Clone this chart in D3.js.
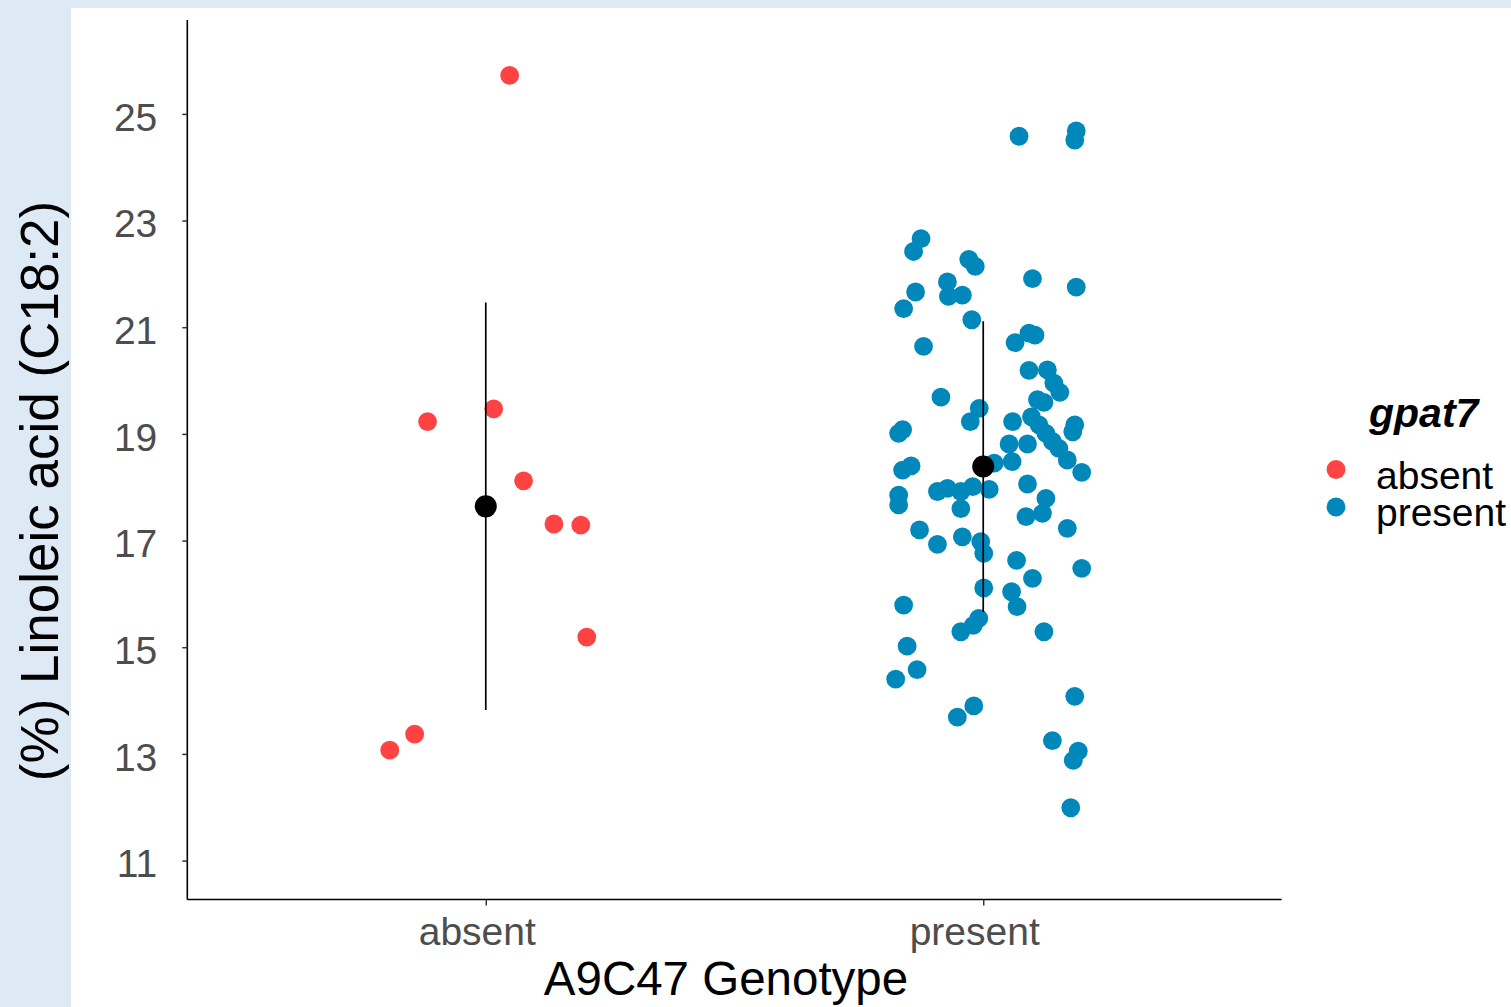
<!DOCTYPE html>
<html>
<head>
<meta charset="utf-8">
<script src="https://cdn.jsdelivr.net/npm/d3@7"></script>
<style>
  body { margin: 0; background: #dde9f5; }
  svg { display: block; font-family: "Liberation Sans", Arial, sans-serif; }
</style>
</head>
<body>
<svg id="chart" width="1511" height="1007"></svg>
<script>
// genotype groups
const groups = ["absent", "present"];

// linoleic acid (%) per line, plus horizontal jitter (in category units)
const absentValues = [25.72, 19.23, 19.47, 18.12, 17.31, 17.29, 15.19, 13.37, 13.07];
const absentJitter = [0.048, -0.117, 0.016, 0.076, 0.137, 0.191, 0.203, -0.143, -0.193];

const presentValues = [
  24.58, 24.68, 24.51, 22.66, 22.42, 22.27, 22.14, 21.91, 21.75, 21.85,
  21.66, 21.58, 21.60, 21.35, 21.14, 20.64, 20.71, 20.89, 20.85, 20.19,
  20.20, 19.95, 19.78, 19.69, 19.64, 19.59, 19.48, 19.23, 19.23, 19.32,
  19.17, 19.01, 19.17, 19.04, 19.08, 19.01, 18.81, 18.81, 18.86, 18.73,
  18.51, 18.28, 18.48, 18.45, 18.40, 18.32, 18.06, 17.79, 17.51, 17.45,
  17.85, 17.67, 17.92, 17.98, 17.92, 18.01, 17.96, 17.60, 17.20, 16.93,
  17.07, 16.98, 16.76, 17.23, 16.63, 16.29, 16.48, 16.11, 16.04, 15.76,
  15.79, 15.54, 15.41, 15.29, 15.29, 15.02, 14.58, 14.40, 14.08, 13.90,
  13.69, 13.25, 13.05, 12.88, 11.99
];
const presentJitter = [
  0.072, 0.187, 0.184, -0.125, -0.140, -0.029, -0.016, 0.099, 0.187, -0.072,
  -0.136, -0.070, -0.042, -0.160, -0.023, -0.120, 0.064, 0.092, 0.104, 0.092,
  0.129, 0.142, 0.154, -0.085, 0.109, 0.122, -0.008, -0.026, 0.059, 0.097,
  0.112, 0.126, 0.184, 0.180, -0.162, -0.170, 0.052, 0.089, 0.139, 0.152,
  0.169, 0.198, 0.058, 0.022, -0.145, -0.162, 0.089, 0.126, 0.119, 0.086,
  -0.170, -0.170, -0.092, -0.072, -0.045, -0.021, 0.012, -0.045, -0.128, -0.092,
  -0.042, -0.005, 0.001, 0.169, 0.067, 0.099, 0.198, 0.001, 0.057, 0.068,
  -0.160, -0.009, -0.020, -0.045, 0.122, -0.153, -0.133, -0.176, 0.184, -0.019,
  -0.052, 0.139, 0.191, 0.181, 0.176
];

const yTicks = [11, 13, 15, 17, 19, 21, 23, 25];
const colors = { absent: "#ff4242", present: "#0088bb" };

const svg = d3.select("#chart");

// white plotting panel on the pale blue page
svg.append("rect")
  .attr("x", 71).attr("y", 8)
  .attr("width", 1440).attr("height", 999)
  .attr("fill", "#ffffff");

const plotLeft = 187.3, plotRight = 1281.7, plotTop = 20, plotBottom = 899.5;

const x = d3.scalePoint().domain(groups).range([plotLeft, plotRight]).padding(0.6);
const step = x.step();
const y = d3.scaleLinear().domain([10.27, 26.76]).range([plotBottom, plotTop]);

const points = [];
absentValues.forEach((v, i) => points.push({ g: "absent", v: v, j: absentJitter[i] }));
presentValues.forEach((v, i) => points.push({ g: "present", v: v, j: presentJitter[i] }));

svg.append("g").selectAll("circle")
  .data(points)
  .enter().append("circle")
  .attr("cx", d => x(d.g) + d.j * step)
  .attr("cy", d => y(d.v))
  .attr("r", 9.4)
  .attr("fill", d => colors[d.g]);

// mean +/- sd per group
const summary = [
  { g: "absent", vals: absentValues },
  { g: "present", vals: presentValues }
].map(d => ({ g: d.g, mean: d3.mean(d.vals), sd: d3.deviation(d.vals) }));

svg.append("g").selectAll("line")
  .data(summary)
  .enter().append("line")
  .attr("x1", d => x(d.g)).attr("x2", d => x(d.g))
  .attr("y1", d => y(d.mean + d.sd))
  .attr("y2", d => y(d.mean - d.sd))
  .attr("stroke", "#000")
  .attr("stroke-width", 1.7);

svg.append("g").selectAll("circle")
  .data(summary)
  .enter().append("circle")
  .attr("cx", d => x(d.g))
  .attr("cy", d => y(d.mean))
  .attr("r", 11)
  .attr("fill", "#000");

// axes
const yAxis = svg.append("g")
  .attr("transform", `translate(${plotLeft},0)`)
  .call(d3.axisLeft(y).tickValues(yTicks).tickSize(5).tickPadding(25));
yAxis.select(".domain").attr("d", `M0,${plotTop}V${plotBottom}`).attr("stroke", "#000").attr("stroke-width", 1.6);

const xAxis = svg.append("g")
  .attr("transform", `translate(0,${plotBottom})`)
  .call(d3.axisBottom(x).tickSize(6).tickPadding(12));
xAxis.select(".domain").attr("d", `M${plotLeft},0H${plotRight}`).attr("stroke", "#000").attr("stroke-width", 1.6);

svg.selectAll(".tick line").attr("stroke", "#333").attr("stroke-width", 1.5);
yAxis.selectAll(".tick text")
  .attr("font-size", 39).attr("fill", "#4d4d4d")
  .attr("font-family", "Liberation Sans, Arial, sans-serif")
  .attr("dy", "0.42em");
xAxis.selectAll(".tick text")
  .attr("font-size", 39).attr("fill", "#4d4d4d")
  .attr("font-family", "Liberation Sans, Arial, sans-serif")
  .attr("dx", -9);

// axis titles
svg.append("text")
  .attr("x", 726).attr("y", 995)
  .attr("text-anchor", "middle")
  .attr("font-size", 47.5)
  .attr("fill", "#000")
  .text("A9C47 Genotype");

svg.append("text")
  .attr("transform", "translate(58,491) rotate(-90)")
  .attr("text-anchor", "middle")
  .attr("font-size", 53)
  .attr("fill", "#000")
  .text("(%) Linoleic acid (C18:2)");

// legend
const legend = svg.append("g");
legend.append("text")
  .attr("x", 1369).attr("y", 427)
  .attr("font-size", 41)
  .attr("font-weight", "bold")
  .attr("font-style", "italic")
  .attr("fill", "#000")
  .text("gpat7");

const legendRows = legend.selectAll("g.row")
  .data(groups)
  .enter().append("g")
  .attr("class", "row")
  .attr("transform", (d, i) => `translate(0,${469.5 + i * 37.5})`);

legendRows.append("circle")
  .attr("cx", 1336).attr("cy", 0).attr("r", 9.4)
  .attr("fill", d => colors[d]);

legendRows.append("text")
  .attr("x", 1376).attr("y", 19)
  .attr("font-size", 39)
  .attr("fill", "#000")
  .text(d => d);
</script>
</body>
</html>
